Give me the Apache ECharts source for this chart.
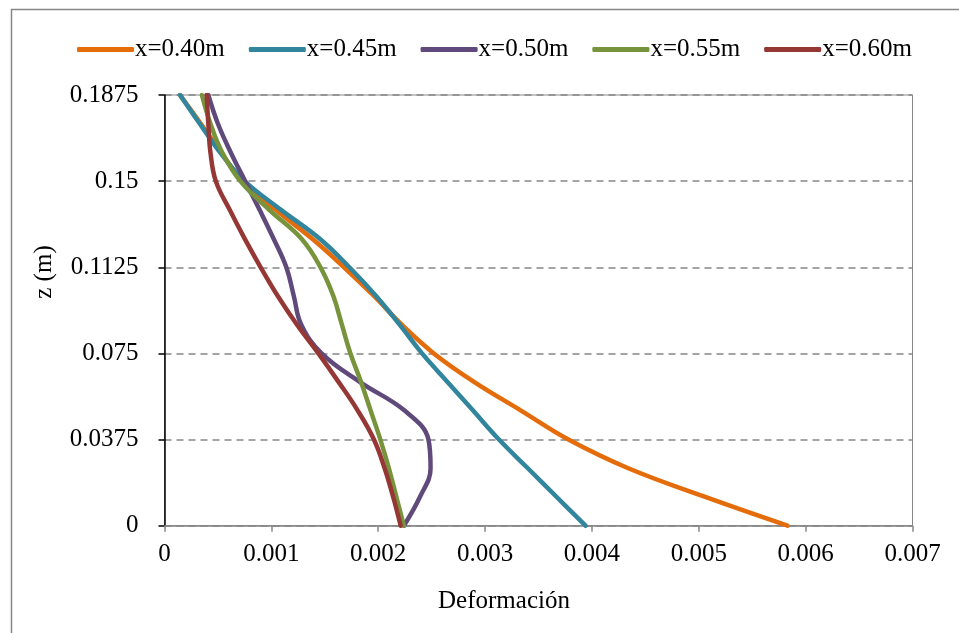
<!DOCTYPE html>
<html>
<head>
<meta charset="utf-8">
<script src="https://cdn.jsdelivr.net/npm/echarts@6/dist/echarts.min.js"></script>
<style>
html,body{margin:0;padding:0;background:#fff;}
#chart{width:959px;height:633px;}
</style>
</head>
<body>
<div id="chart"></div>
<script>
// z levels (m)
var zLevels = [0, 0.0125, 0.025, 0.0375, 0.05, 0.0625, 0.075, 0.0875, 0.1, 0.1125, 0.125, 0.1375, 0.15, 0.1625, 0.175, 0.1875];
// Deformación per series
var defX040 = [0.00583, 0.00506, 0.00434, 0.00378, 0.00334, 0.00290, 0.00252, 0.00222, 0.00196, 0.00168, 0.00138, 0.00104, 0.00073, 0.00053, 0.00034, 0.000145];
var defX045 = [0.00394, 0.00367, 0.00340, 0.00313, 0.00289, 0.00265, 0.00241, 0.00220, 0.00198, 0.00173, 0.00145, 0.00109, 0.00075, 0.00052, 0.00033, 0.000145];
var defX050 = [0.00224, 0.00239, 0.00249, 0.00247, 0.00225, 0.00183, 0.00147, 0.00128, 0.00121, 0.00114, 0.00102, 0.00089, 0.000755, 0.00062, 0.00050, 0.00041];
var defX055 = [0.00224, 0.00217, 0.00210, 0.00202, 0.00193, 0.00184, 0.00174, 0.00166, 0.00158, 0.00146, 0.00128, 0.00098, 0.00071, 0.00054, 0.00043, 0.00035];
var defX060 = [0.00221, 0.00214, 0.00206, 0.00196, 0.00181, 0.00163, 0.00144, 0.00124, 0.00106, 0.00090, 0.00075, 0.00061, 0.00048, 0.00043, 0.00041, 0.000395];
var seriesNames = ['x=0.40m', 'x=0.45m', 'x=0.50m', 'x=0.55m', 'x=0.60m'];
var seriesColors = ['#E46C0A', '#31859C', '#604A7B', '#77933C', '#953735'];
var xTickLabels = ['0', '0.001', '0.002', '0.003', '0.004', '0.005', '0.006', '0.007'];
var yTickLabels = ['0', '0.0375', '0.075', '0.1125', '0.15', '0.1875'];

var allDefs = [defX040, defX045, defX050, defX055, defX060];
var FONT = "'Liberation Serif','Times New Roman',serif";

var chart = echarts.init(document.getElementById('chart'), null, {renderer: 'canvas'});
var series = allDefs.map(function (arr, i) {
  return {
    name: seriesNames[i],
    type: 'line',
    symbol: 'none',
    smooth: 0.4,
    color: seriesColors[i],
    lineStyle: {width: 4.5, color: seriesColors[i], cap: 'round', join: 'round'},
    data: arr.map(function (v, k) { return [v, zLevels[k]]; })
  };
});

chart.setOption({
  animation: false,
  backgroundColor: '#fff',
  textStyle: {fontFamily: FONT},
  legend: {
    left: 72, top: 32,
    icon: 'roundRect',
    itemWidth: 57, itemHeight: 5, itemGap: 24,
    textStyle: {fontFamily: FONT, fontSize: 25, color: '#000', padding: [0, 0, 0, -4]},
    data: seriesNames
  },
  grid: {left: 164.5, right: 46.5, top: 95, bottom: 107.3, show: true, borderColor: '#868686', borderWidth: 1, containLabel: false},
  xAxis: {
    type: 'value', min: 0, max: 0.007, interval: 0.001,
    axisLine: {show: true, lineStyle: {color: '#868686', width: 1.5}},
    axisTick: {show: true, inside: false, length: 6, lineStyle: {color: '#868686', width: 1.5}},
    splitLine: {show: false},
    axisLabel: {
      fontFamily: FONT, fontSize: 25, color: '#000', margin: 16,
      formatter: function (v) { return xTickLabels[Math.round(v * 1000)]; }
    }
  },
  yAxis: {
    type: 'value', min: 0, max: 0.1875, interval: 0.0375,
    axisLine: {show: true, lineStyle: {color: '#000', width: 1.5}},
    axisTick: {show: true, inside: false, length: 6, lineStyle: {color: '#000', width: 1.5}},
    splitLine: {show: true, lineStyle: {color: '#868686', width: 1.5, type: [7, 5]}},
    axisLabel: {
      fontFamily: FONT, fontSize: 25, color: '#000', margin: 26,
      formatter: function (v) { return yTickLabels[Math.round(v / 0.0375)]; }
    }
  },
  graphic: [
    {type: 'rect', left: 9, top: 7, shape: {width: 1000, height: 700}, style: {fill: 'none', stroke: '#868686', lineWidth: 1.5}, silent: true, z: -1},
    {type: 'text', x: 44, y: 272, rotation: Math.PI / 2, style: {text: 'z (m)', font: '25px ' + FONT, fill: '#000', textAlign: 'center', textVerticalAlign: 'middle'}},
    {type: 'text', x: 504, y: 601, style: {text: 'Deformación', font: '25px ' + FONT, fill: '#000', textAlign: 'center', textVerticalAlign: 'middle'}}
  ],
  series: series
});
</script>
</body>
</html>
